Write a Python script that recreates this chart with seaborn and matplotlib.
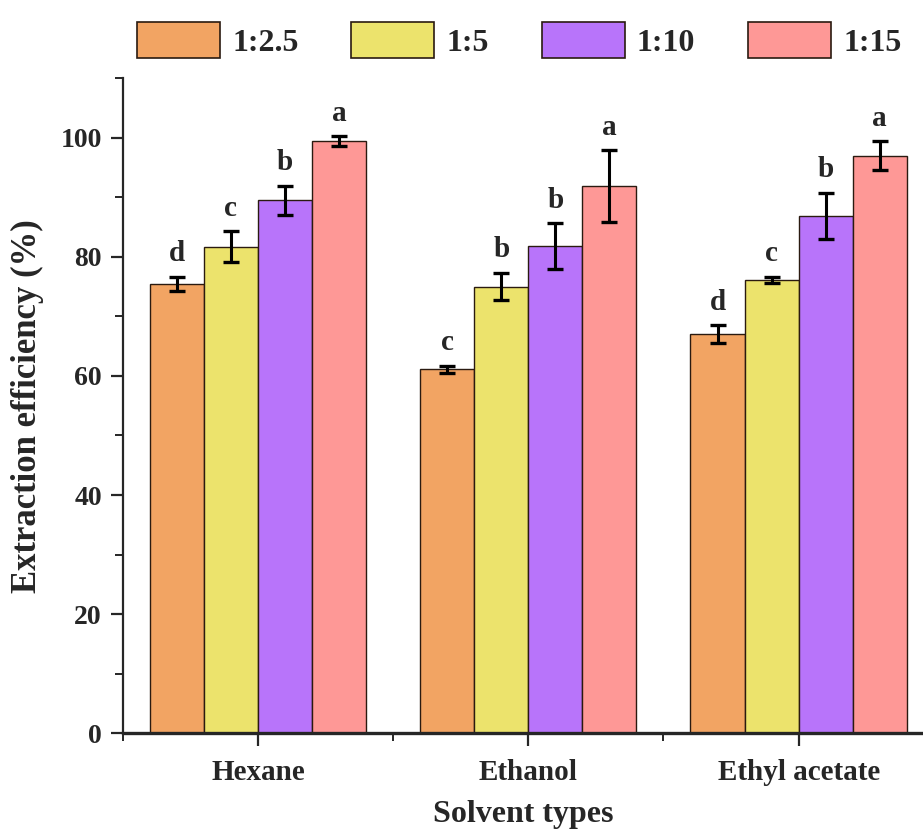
import matplotlib
matplotlib.use("Agg")
import matplotlib.pyplot as plt
from matplotlib.ticker import FixedLocator
import seaborn as sns
import pandas as pd

solvents = ["Hexane", "Ethanol", "Ethyl acetate"]
ratios = ["1:2.5", "1:5", "1:10", "1:15"]
# values[ratio][solvent]
values = {
    "1:2.5": [75.5, 61.1, 67.0],
    "1:5":   [81.7, 75.0, 76.2],
    "1:10":  [89.5, 81.8, 86.9],
    "1:15":  [99.5, 91.9, 97.0],
}
errors = {
    "1:2.5": [1.2, 0.6, 1.5],
    "1:5":   [2.6, 2.3, 0.5],
    "1:10":  [2.5, 3.9, 3.9],
    "1:15":  [0.8, 6.0, 2.4],
}
letters = {
    "1:2.5": ["d", "c", "d"],
    "1:5":   ["c", "b", "c"],
    "1:10":  ["b", "b", "b"],
    "1:15":  ["a", "a", "a"],
}
colors = ["#F2A463", "#ECE36C", "#B874FA", "#FE9896"]

rows = []
for r in ratios:
    for i, s in enumerate(solvents):
        rows.append({"Solvent": s, "Ratio": r, "Value": values[r][i]})
df = pd.DataFrame(rows)

sns.set_theme(style="ticks")
plt.rcParams['font.family'] = ['Liberation Serif', 'DejaVu Serif']
plt.rcParams['font.weight'] = 'bold'

fig = plt.figure(figsize=(9.23, 8.34), dpi=100)
ax = fig.add_axes([0.133, 0.121, 0.867, 0.785])

sns.barplot(data=df, x="Solvent", y="Value", hue="Ratio", order=solvents,
            hue_order=ratios, palette=colors, errorbar=None, width=0.8,
            edgecolor="#2a1a10", linewidth=1.0, saturation=1, ax=ax)

for r, cont in zip(ratios, ax.containers):
    xs = [p.get_x() + p.get_width() / 2 for p in cont.patches]
    ax.errorbar(xs, values[r], yerr=errors[r], fmt="none", ecolor="black",
                elinewidth=2.2, capsize=6, capthick=2.4, zorder=5)
    for x, v, e, t in zip(xs, values[r], errors[r], letters[r]):
        ax.text(x, v + e + 1.6, t, ha="center", va="bottom", fontsize=21,
                fontweight="bold")

ax.set_ylim(0, 110)
ax.set_xlim(-0.5, 2.46)
ax.yaxis.set_major_locator(FixedLocator([0, 20, 40, 60, 80, 100]))
ax.yaxis.set_minor_locator(FixedLocator([10, 30, 50, 70, 90, 110]))
ax.xaxis.set_minor_locator(FixedLocator([-0.5, 0.5, 1.5]))
ax.tick_params(axis="both", which="major", length=9, width=1.6, direction="out")
ax.tick_params(axis="both", which="minor", length=5.5, width=1.4, direction="out")
ax.tick_params(axis="y", which="major", labelsize=20, pad=6)
ax.tick_params(axis="x", which="major", labelsize=21, pad=10)
for lab in ax.get_xticklabels() + ax.get_yticklabels():
    lab.set_fontweight("bold")

sns.despine(ax=ax)
ax.spines["left"].set_linewidth(1.6)
ax.spines["bottom"].set_linewidth(2.4)

ax.set_xlabel("Solvent types", fontsize=23, fontweight="bold", labelpad=10)
ax.set_ylabel("Extraction efficiency (%)", fontsize=25, fontweight="bold", labelpad=12)

ax.get_legend().remove()
handles = [plt.Rectangle((0, 0), 1, 1, facecolor=c, edgecolor="#2a1a10", linewidth=1.2)
           for c in colors]
fig.legend(handles, ratios, loc="center left", bbox_to_anchor=(137 / 923, 1 - 40 / 834),
           ncol=4, frameon=False, handlelength=2.6, handleheight=1.35,
           columnspacing=1.65, handletextpad=0.38, borderpad=0, borderaxespad=0,
           prop={"weight": "bold", "size": 23})

fig.savefig("out.png", dpi=100)
